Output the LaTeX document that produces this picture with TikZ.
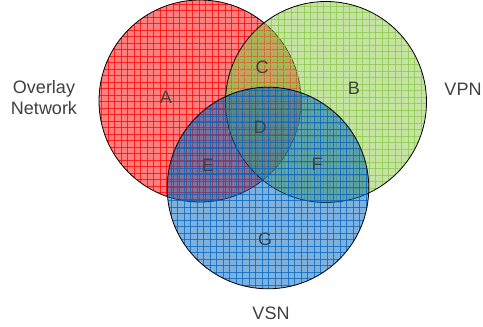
\documentclass[tikz,border=0pt]{standalone}
\usepackage{fontspec}
\setmainfont{Liberation Sans}
\definecolor{cred}{RGB}{255,0,0}
\definecolor{cgreen}{RGB}{140,200,70}
\definecolor{cblue}{RGB}{0,100,190}
\definecolor{txt}{RGB}{64,64,64}
\tikzset{
  lbl/.style={text=txt, font=\fontsize{18}{21}\selectfont, inner sep=0pt, align=center},
  outline/.style={draw=black, line width=0.8pt},
  gridline/.style={line width=0.6pt, opacity=0.75}
}
% #1 cx, #2 cy, #3 r, #4 colour, #5 grid x0, #6 grid y0
\newcommand{\vennlayer}[6]{%
  \begin{scope}
    \clip (#1,#2) circle (#3pt);
    \fill[#4, fill opacity=0.5] (#1,#2) circle (#3pt);
    \foreach \k in {0,...,34} {
      \draw[#4, gridline] ({#5+6.5*\k},{#2-#3-2}) -- ({#5+6.5*\k},{#2+#3+2});
      \draw[#4, gridline] ({#1-#3-2},{#6+6.5*\k}) -- ({#1+#3+2},{#6+6.5*\k});
    }
  \end{scope}
  \draw[outline] (#1,#2) circle (#3pt);
}
\begin{document}
\begin{tikzpicture}[x=1pt,y=-1pt]
\useasboundingbox (0,0) rectangle (483,327);
\vennlayer{200}{101}{101}{cred}{94.8}{-2.3}
\vennlayer{326}{102}{100.5}{cgreen}{219.7}{-0.7}
\vennlayer{268}{188}{100.8}{cblue}{164.3}{83.3}
\node[lbl] (A) at (166,97) {A};
\node[lbl] (B) at (354,88) {B};
\node[lbl] (C) at (262,67) {C};
\node[lbl] (D) at (260,127) {D};
\node[lbl] (E) at (208,165) {E};
\node[lbl] (F) at (317,164) {F};
\node[lbl] (G) at (265,239) {G};
\node[lbl] (ovl) at (44,98) {Overlay\\Network};
\node[lbl] (vpn) at (463,89) {VPN};
\node[lbl] (vsn) at (271,313) {VSN};
\end{tikzpicture}
\end{document}
